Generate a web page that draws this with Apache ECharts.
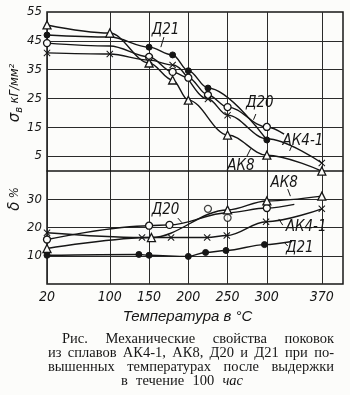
<!DOCTYPE html>
<html><head><meta charset="utf-8">
<script src="https://cdn.jsdelivr.net/npm/echarts@6/dist/echarts.min.js"></script>
<style>html,body{margin:0;padding:0;background:#fcfcfa}#c{width:350px;height:395px}</style>
</head><body><div id="c"></div>
<script>
// ---- axis ticks ----
const xTicks = [20, 100, 150, 200, 250, 300, 370];
const sigmaLabels = [5, 15, 25, 35, 45, 55];
const sigmaGrid = [5, 15, 25, 35, 45];
const deltaLabels = [10, 20, 30];

// ---- σв, кГ/мм² (upper curves): [T, value, marker shown 1/0] ----
const sigD21  = [[20,47.0,1],[100,46.3,0],[150,42.8,1],[180,40.1,1],[200,34.6,1],[225,28.6,1],[300,10.6,1]];
const sigD20  = [[20,44.2,1],[100,43.2,0],[150,39.4,1],[180,34.2,1],[200,32.2,1],[225,26.2,1],[250,22.0,1],[300,15.1,1],[322,12.6,0]];
const sigAK41 = [[20,40.8,1],[100,40.4,1],[150,38.3,1],[180,36.6,1],[225,24.8,1],[250,19.2,1],[300,11.0,0],[370,2.6,1]];
const sigAK8  = [[20,50.5,1],[100,47.7,1],[150,37.3,1],[180,31.4,1],[200,24.4,1],[250,12.3,1],[300,5.3,1],[370,-0.2,1]];

// ---- δ, % (lower curves) ----
const delD20  = [[20,15.8,1],[150,20.7,1],[176,21.0,1],[250,25.3,0],[300,27.0,1],[335,28.3,0]];
const delD20Extra = [[225,26.7],[250,23.5]];
const delAK8  = [[20,12.6,1],[153,16.5,1],[250,26.3,1],[300,29.5,1],[370,31.2,1]];
const delAK41 = [[20,18.2,1],[141,16.5,1],[178,16.5,1],[224,16.5,1],[249,17.2,1],[299,22.1,1],[370,26.7,1]];
const delD21  = [[20,10.2,1],[137,10.5,1],[150,10.2,1],[200,9.8,1],[222,11.2,1],[248,11.9,1],[297,14.0,1],[332,15.1,0]];

// ---- curve labels: text, axis (0 σ, 1 δ), anchor [T,v], leader [[T,v],[T,v]] ----
const curveLabels = [
  ['Д21', 0, [171, 48.8], [[168.9, 46.3], [165, 42.8]]],
  ['Д20', 0, [291, 23.3], [[286, 19.6], [283, 17.6]]],
  ['АК4-1', 0, [346, 10.3], [[331.7, 8.5], [329, 6.8]]],
  ['АК8', 0, [267, 1.4], [[274.5, 4.9], [279.5, 7.6]]],
  ['АК8', 1, [322, 35.8], [[326.6, 33.7], [330, 31.2]]],
  ['Д20', 1, [171, 26.2], [[186.7, 23.4], [191.8, 21.8]]],
  ['АК4-1', 1, [350, 20.2], [[320.3, 20.9], [315.2, 23.1]]],
  ['Д21', 1, [342, 12.6], [[326.6, 13.5], [322.8, 14.6]]]
];

const captionLines = [
  {words: ['Рис.', 'Механические', 'свойства', 'поковок'], x0: 62, x1: 334, y: 339},
  {words: ['из', 'сплавов', 'АК4-1,', 'АК8,', 'Д20', 'и', 'Д21', 'при', 'по-'], x0: 48, x1: 334, y: 353},
  {words: ['вышенных', 'температурах', 'после', 'выдержки'], x0: 48, x1: 334, y: 367},
  {words: ['в', 'течение', '100', 'час'], x0: 121, x1: 243, y: 381, italicLast: true}
];

const INK = '#161616';
const crossPath = 'path://M0,1L1,0L5,4L9,0L10,1L6,5L10,9L9,10L5,6L1,10L0,9L4,5Z';
const markerStyles = {
  dot:   {symbol: 'circle', symbolSize: 6, itemStyle: {color: INK, borderColor: INK, borderWidth: 1}},
  ring:  {symbol: 'circle', symbolSize: 7, itemStyle: {color: '#fcfcfa', borderColor: INK, borderWidth: 1.3}},
  tri:   {symbol: 'triangle', symbolSize: 8, itemStyle: {color: '#fcfcfa', borderColor: INK, borderWidth: 1.3}},
  cross: {symbol: crossPath, symbolSize: 7, itemStyle: {color: INK, borderColor: INK, borderWidth: 0}}
};

function lineSeries(name, arr, axis, mk) {
  const m = markerStyles[mk];
  return {
    name, type: 'line', xAxisIndex: 0, yAxisIndex: axis, smooth: 0.35, smoothMonotone: 'x',
    symbol: m.symbol, symbolSize: m.symbolSize, itemStyle: m.itemStyle,
    lineStyle: {color: INK, width: 1.4}, z: 3,
    data: arr.map(p => p[2] ? {value: [p[0], p[1]]} : {value: [p[0], p[1]], symbol: 'none'}),
    animation: false, silent: true
  };
}

const NARROW = "'Liberation Sans Narrow','DejaVu Sans Condensed','Roboto Condensed',sans-serif";
const axisFont = {fontFamily: NARROW, fontStyle: 'italic', fontWeight: 'normal', fontSize: 13, color: INK};

const chart = echarts.init(document.getElementById('c'), null, {renderer: 'canvas'});
const option = {
  backgroundColor: '#fcfcfa',
  animation: false,
  grid: {left: 47, right: 7, top: 12, bottom: 111, show: true, borderColor: INK, borderWidth: 1.5, backgroundColor: 'transparent'},
  xAxis: {
    type: 'value', min: 20, max: 397,
    axisLine: {show: true, lineStyle: {color: INK, width: 1.5}},
    axisTick: {show: true, length: 0, customValues: xTicks},
    axisLabel: Object.assign({customValues: xTicks, margin: 6}, axisFont, {fontSize: 14}),
    splitLine: {show: true, lineStyle: {color: '#2a2a2a', width: 1}},
    name: 'Температура в °C', nameLocation: 'middle', nameGap: 22,
    nameTextStyle: {fontFamily: "'Liberation Sans','DejaVu Sans',sans-serif", fontStyle: 'italic', fontSize: 15, color: INK, padding: [0, 15, 0, 0]}
  },
  yAxis: [
    {
      type: 'value', min: -39.4, max: 55, position: 'left',
      axisLine: {show: false}, axisTick: {show: true, length: 0, customValues: sigmaGrid},
      axisLabel: Object.assign({customValues: sigmaLabels, margin: 5}, axisFont),
      splitLine: {show: true, lineStyle: {color: '#2a2a2a', width: 1}}
    },
    {
      type: 'value', min: 0, max: 96.6, position: 'left', offset: 0,
      axisLine: {show: false}, axisTick: {show: true, length: 0, customValues: deltaLabels},
      axisLabel: Object.assign({customValues: deltaLabels, margin: 5}, axisFont),
      splitLine: {show: true, lineStyle: {color: '#2a2a2a', width: 1}}
    }
  ],
  series: [
    lineSeries('Д21 σ', sigD21, 0, 'dot'),
    lineSeries('Д20 σ', sigD20, 0, 'ring'),
    lineSeries('АК4-1 σ', sigAK41, 0, 'cross'),
    lineSeries('АК8 σ', sigAK8, 0, 'tri'),
    lineSeries('Д20 δ', delD20, 1, 'ring'),
    lineSeries('АК8 δ', delAK8, 1, 'tri'),
    lineSeries('АК4-1 δ', delAK41, 1, 'cross'),
    lineSeries('Д21 δ', delD21, 1, 'dot'),
    {type: 'scatter', xAxisIndex: 0, yAxisIndex: 1, data: delD20Extra, symbol: 'circle', symbolSize: 7,
     itemStyle: {color: '#fcfcfa', borderColor: INK, borderWidth: 1.3}, silent: true, z: 3}
  ]
};
chart.setOption(option);

// ---- annotations ----
const g = [];
const labelFont = "italic 15px " + NARROW;
curveLabels.forEach(([txt, ax, anc, ld]) => {
  const p = chart.convertToPixel({xAxisIndex: 0, yAxisIndex: ax}, anc);
  g.push({type: 'text', x: p[0], y: p[1], style: {text: txt, font: labelFont, fill: INK, align: 'center', verticalAlign: 'middle'}, z: 10});
  const a = chart.convertToPixel({xAxisIndex: 0, yAxisIndex: ax}, ld[0]);
  const b = chart.convertToPixel({xAxisIndex: 0, yAxisIndex: ax}, ld[1]);
  g.push({type: 'line', shape: {x1: a[0], y1: a[1], x2: b[0], y2: b[1]}, style: {stroke: INK, lineWidth: 1}, z: 10});
});

// axis titles
g.push({type: 'text', x: 15, y: 93, rotation: Math.PI / 2,
  style: {rich: {s: {font: "italic 15px 'DejaVu Sans',sans-serif", fill: INK}, b: {font: "italic 10px 'DejaVu Sans',sans-serif", fill: INK, padding: [8, 0, 0, 0]}, t: {font: "italic 13px " + NARROW, fill: INK}},
    text: '{s|σ}{b|в} {t|кГ/мм²}', align: 'center', verticalAlign: 'middle'}});
g.push({type: 'text', x: 15, y: 199, rotation: Math.PI / 2,
  style: {rich: {s: {font: "italic 15px 'DejaVu Sans',sans-serif", fill: INK}, t: {font: "italic 13px " + NARROW, fill: INK}},
    text: '{s|δ} {t|%}', align: 'center', verticalAlign: 'middle'}});

// caption (justified)
const capFont = "14.5px 'Liberation Serif','DejaVu Serif',serif";
const capFontI = "italic 14.5px 'Liberation Serif','DejaVu Serif',serif";
const ctx = document.createElement('canvas').getContext('2d');
captionLines.forEach(line => {
  const fonts = line.words.map((w, i) => (line.italicLast && i === line.words.length - 1) ? capFontI : capFont);
  const widths = line.words.map((w, i) => { ctx.font = fonts[i]; return ctx.measureText(w).width; });
  const total = widths.reduce((s, v) => s + v, 0);
  const gap = (line.x1 - line.x0 - total) / (line.words.length - 1);
  let x = line.x0;
  line.words.forEach((w, i) => {
    g.push({type: 'text', x: x, y: line.y, style: {text: w, font: fonts[i], fill: INK, align: 'left', verticalAlign: 'middle'}});
    x += widths[i] + gap;
  });
});

chart.setOption({graphic: {elements: g}});
</script>
</body></html>
